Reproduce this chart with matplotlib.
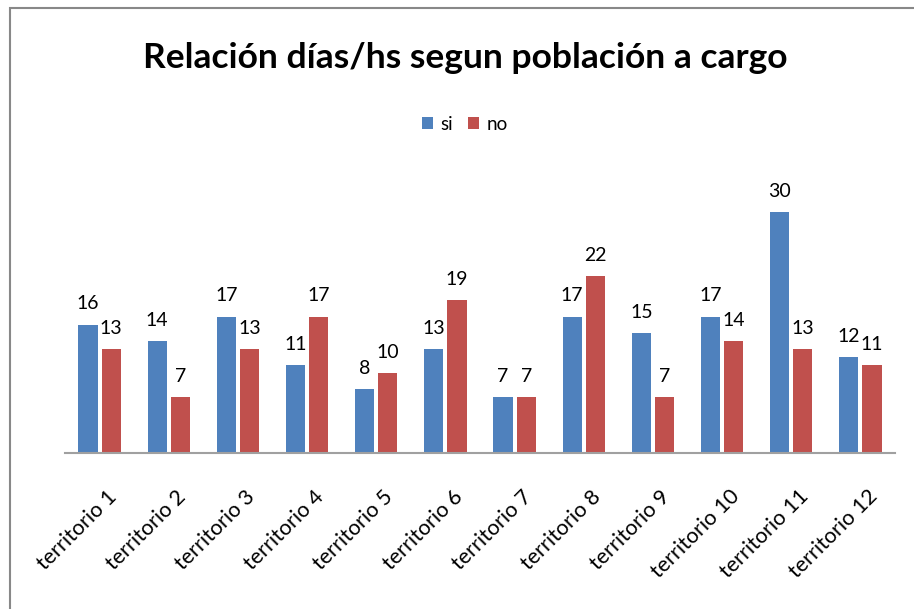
import numpy as np
import matplotlib.pyplot as plt
from matplotlib.patches import Rectangle

categories = ['territorio 1', 'territorio 2', 'territorio 3', 'territorio 4',
              'territorio 5', 'territorio 6', 'territorio 7', 'territorio 8',
              'territorio 9', 'territorio 10', 'territorio 11', 'territorio 12']
si = [16, 14, 17, 11, 8, 13, 7, 17, 15, 17, 30, 12]
no = [13, 7, 13, 17, 10, 19, 7, 22, 7, 14, 13, 11]

plt.rcParams['font.family'] = ['Lato', 'DejaVu Sans']

W, H = 914, 609
fig = plt.figure(figsize=(W / 100, H / 100), dpi=100)

# marco del grafico (solo se ven borde superior e izquierdo)
fig.patches.append(Rectangle((10 / W, -0.05), 1.2, 1 - 8 / H + 0.05, transform=fig.transFigure,
                             fill=False, edgecolor='#888888', linewidth=1.5))

ax = fig.add_axes([65 / W, 1 - 453 / H, (895 - 65) / W, (453 - 180) / H])

x = np.arange(len(categories))
w = 0.275
blue = '#4F81BD'
red = '#C0504D'
b1 = ax.bar(x - w / 2 - 0.03, si, w, color=blue, label='si')
b2 = ax.bar(x + w / 2 + 0.03, no, w, color=red, label='no')

for bars, vals in [(b1, si), (b2, no)]:
    for rect, v in zip(bars, vals):
        ax.text(rect.get_x() + rect.get_width() / 2, v + 1.5, str(v),
                ha='center', va='bottom', fontsize=14)

ax.set_xlim(-0.5, len(categories) - 0.5)
ax.set_ylim(0, 34)
ax.set_yticks([])
for s in ['top', 'right', 'left']:
    ax.spines[s].set_visible(False)
ax.spines['bottom'].set_color('#A0A0A0')
ax.spines['bottom'].set_linewidth(1.5)
ax.set_xticks(x + 0.1)
ax.set_xticklabels(categories, rotation=45, ha='right', rotation_mode='anchor', fontsize=15.5)
ax.tick_params(axis='x', length=0, pad=24)

fig.text(465 / W, 1 - 58 / H, 'Relación días/hs segun población a cargo',
         ha='center', va='center', fontsize=25.5, fontweight='bold')

fig.legend(handles=[b1, b2], loc='center', bbox_to_anchor=(465 / W, 1 - 124 / H),
           ncol=2, frameon=False, fontsize=13.5, handlelength=0.6, handleheight=0.6,
           handletextpad=0.4, columnspacing=0.8)

fig.savefig('out.png', dpi=100)
